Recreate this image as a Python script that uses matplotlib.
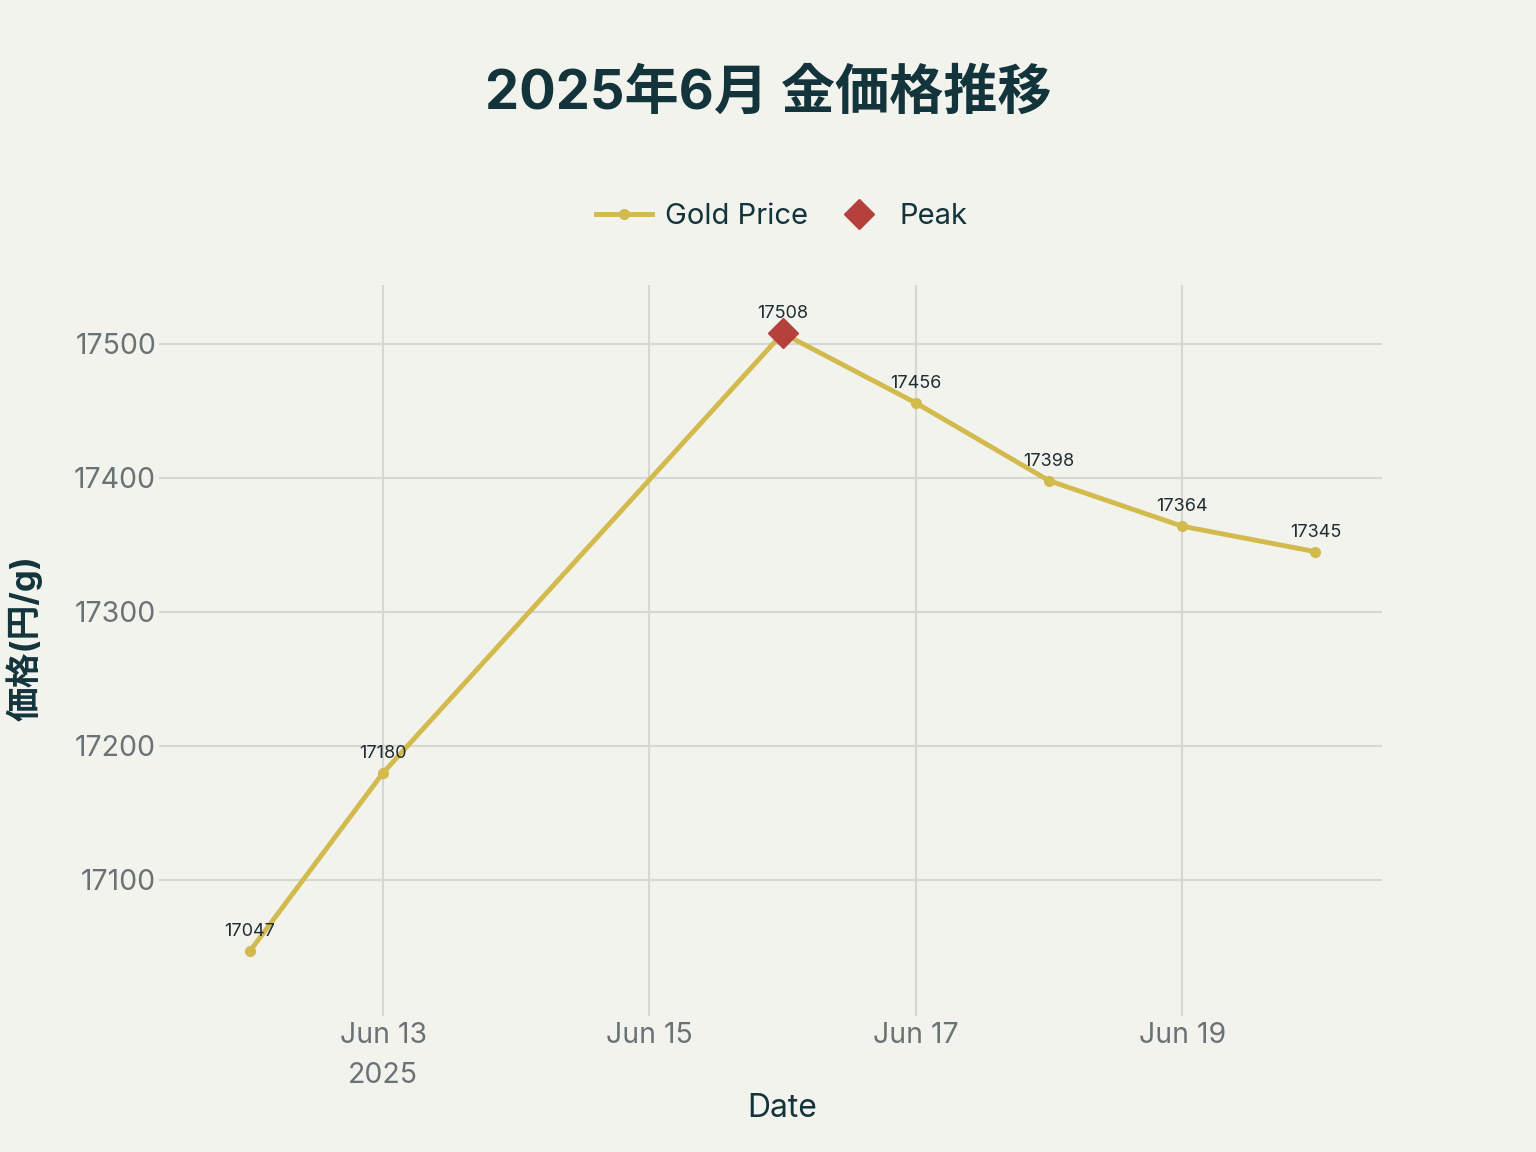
import datetime as dt
import matplotlib
matplotlib.use('Agg')
import matplotlib.pyplot as plt

plt.rcParams['font.family'] = ['Inter', 'Noto Sans CJK JP', 'DejaVu Sans']

dates = ['2025-06-12', '2025-06-13', '2025-06-16', '2025-06-17',
         '2025-06-18', '2025-06-19', '2025-06-20']
prices = [17047, 17180, 17508, 17456, 17398, 17364, 17345]
peak_date = '2025-06-16'
peak_price = 17508
tick_dates = ['2025-06-13', '2025-06-15', '2025-06-17', '2025-06-19']
y_ticks = [17100, 17200, 17300, 17400, 17500]

bg = '#F3F3EE'
gold = '#D2BA4C'
red = '#B4413C'
dark = '#13343B'
grid_c = '#D6D6D3'
tick_c = '#6B7275'

x = [dt.datetime.strptime(d, '%Y-%m-%d') for d in dates]
px = dt.datetime.strptime(peak_date, '%Y-%m-%d')
xt = [dt.datetime.strptime(d, '%Y-%m-%d') for d in tick_dates]

fig = plt.figure(figsize=(15.36, 11.52), dpi=100, facecolor=bg)
ax = fig.add_axes([0.1107, 0.1276, 0.789, 0.625], facecolor=bg)

ax.plot(x, prices, color=gold, lw=3.5, marker='o', ms=7, label='Gold Price', zorder=3)
ax.plot([px], [peak_price], ls='none', marker='D', ms=15, color=red, label='Peak', zorder=4)

for xi, yi in zip(x, prices):
    ax.annotate(str(yi), (xi, yi), xytext=(0, 8), textcoords='offset points',
                ha='center', va='bottom', fontsize=13, color='#1F2D33', zorder=5)

ax.set_xlim(x[0] - dt.timedelta(days=0.6), x[-1] + dt.timedelta(days=0.5))
ax.set_ylim(17006.7, 17544)
ax.set_yticks(y_ticks)
ax.set_yticklabels([str(v) for v in y_ticks])
ax.set_xticks(xt)
labels = [d.strftime('%b %d').replace(' 0', ' ') for d in xt]
labels[0] = labels[0] + '\n2025'
ax.set_xticklabels(labels, linespacing=1.65)

ax.grid(True, color=grid_c, lw=1.5)
ax.set_axisbelow(True)
for s in ax.spines.values():
    s.set_visible(False)
ax.tick_params(axis='both', colors=grid_c, labelcolor=tick_c, labelsize=20.5,
               length=8, width=1.5)
ax.tick_params(axis='y', pad=2)
ax.tick_params(axis='x', pad=4)

ax.set_xlabel('Date', fontsize=23, color=dark)
ax.xaxis.set_label_coords(0.505, -0.122)
ax.set_ylabel('価格(円/g)', fontsize=25, color=dark, fontweight='bold')
ax.yaxis.set_label_coords(-0.105, 0.51)

fig.text(0.5, 0.918, '2025年6月 金価格推移', ha='center', va='center',
         fontsize=39, fontweight='bold', color=dark)

fig.legend(loc='center', bbox_to_anchor=(0.509, 0.812), ncol=2, frameon=False,
           fontsize=21, handlelength=1.9, columnspacing=0.8, handletextpad=0.45,
           labelcolor=dark)

fig.savefig('out.png', dpi=100, facecolor=bg)
